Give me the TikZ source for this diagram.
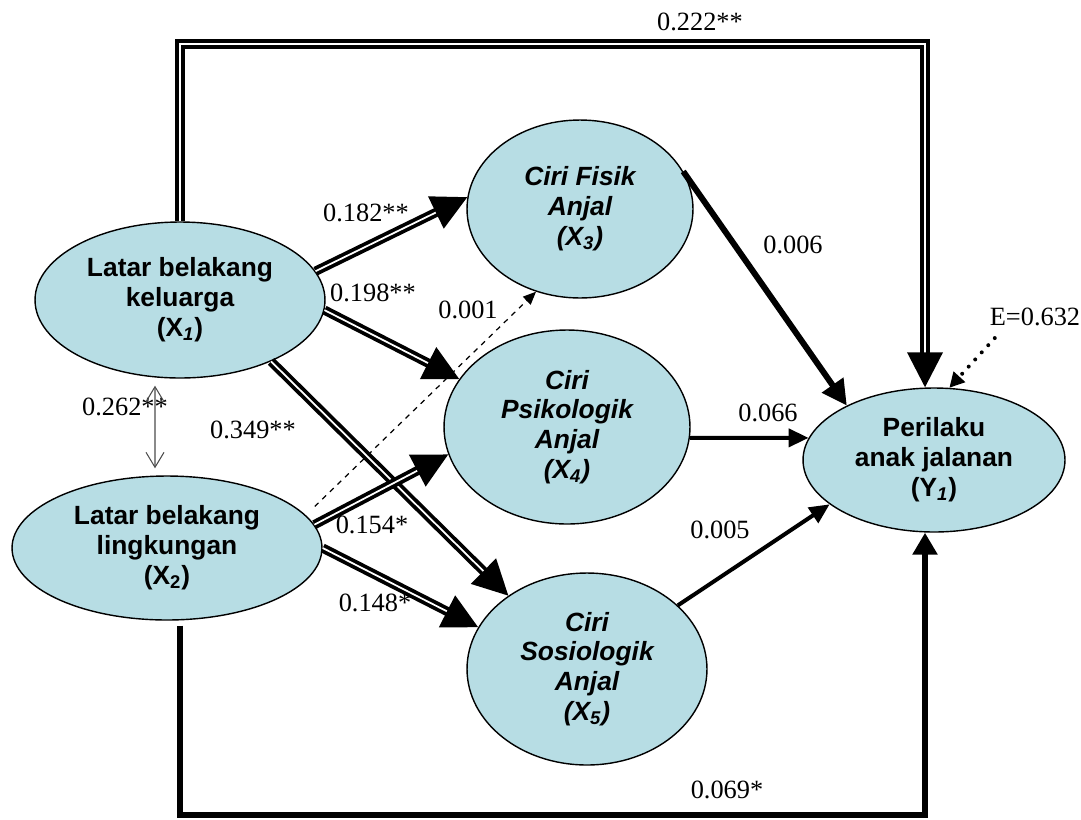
\documentclass[tikz,border=0pt]{standalone}
\usepackage{fontspec}
\setmainfont{Liberation Serif}
\newfontfamily\arialfont{Liberation Sans}
\usetikzlibrary{shapes.geometric,arrows.meta}
\definecolor{anjalblue}{RGB}{183,221,228}

\begin{document}
\begin{tikzpicture}[x=0.02cm, y=-0.02cm,
    varnode/.style={ellipse, draw, line width=0.8pt, fill=anjalblue, inner sep=0pt, align=center,
        font=\arialfont\fontsize{15}{17}\selectfont\bfseries},
    varital/.style={varnode, font=\arialfont\fontsize{15}{17}\selectfont\bfseries\itshape},
    coef/.style={font=\fontsize{15}{17}\selectfont, inner sep=1pt},
    strongpath/.style={draw, line width=0.075cm, double=white, double distance=0.035cm, line join=miter,
        -{Triangle[length=0.7cm,width=0.7cm]}},
    heavypath/.style={draw, line width=0.12cm, -{Triangle[length=0.5cm,width=0.5cm]}},
    mediumpath/.style={draw, line width=0.08cm, -{Triangle[length=0.4cm,width=0.36cm]}},
    weakpath/.style={draw, line width=0.7pt, dashed, -{Triangle[length=0.26cm,width=0.22cm]}},
    corrpath/.style={draw, gray!60!black, line width=0.6pt,
        {Straight Barb[length=0.3cm,width=0.36cm]}-{Straight Barb[length=0.3cm,width=0.36cm]}}
]

    % frame of the picture
    \useasboundingbox (0,0) rectangle (1081,819);

    % exogenous variables
    \node[varnode, minimum width=5.8cm, minimum height=3.12cm] (x1) at (180,300)
        {Latar belakang\\keluarga\\(X\textsubscript{\itshape 1})};
    \node[varnode, minimum width=6.2cm, minimum height=2.88cm] (x2) at (167,548)
        {Latar belakang\\lingkungan\\(X\textsubscript{2})};

    % intervening variables
    \node[varital, minimum width=4.52cm, minimum height=3.56cm] (x3) at (580,209)
        {Ciri Fisik\\Anjal\\(X\textsubscript{3})};
    \node[varital, minimum width=4.92cm, minimum height=3.88cm] (x4) at (567,427)
        {Ciri\\Psikologik\\Anjal\\(X\textsubscript{4})};
    \node[varital, minimum width=4.8cm, minimum height=3.84cm] (x5) at (587,669)
        {Ciri\\Sosiologik\\Anjal\\(X\textsubscript{5})};

    % dependent variable
    \node[varnode, minimum width=5.24cm, minimum height=2.88cm] (y1) at (934,460)
        {Perilaku\\anak jalanan\\(Y\textsubscript{\itshape 1})};

    % path coefficients
    \node[coef] (c222) at (700,22) {0.222**};
    \node[coef] (c182) at (366,213) {0.182**};
    \node[coef] (c198) at (373,293) {0.198**};
    \node[coef] (c001) at (468,310) {0.001};
    \node[coef] (c349) at (253,430) {0.349**};
    \node[coef] (c262) at (125,407) {0.262**};
    \node[coef] (c154) at (372,525) {0.154*};
    \node[coef] (c148) at (375,603) {0.148*};
    \node[coef] (c006) at (793,245) {0.006};
    \node[coef] (c066) at (768,413) {0.066};
    \node[coef] (c005) at (720,530) {0.005};
    \node[coef] (c069) at (727,790) {0.069*};
    \node[coef] (err) at (1035,317) {E=0.632};

    % X1 to Y1 over the top
    \coordinate (topline) at (550,44);
    \draw[strongpath] (x1.north) |- (topline) -| ([xshift=-0.18cm]y1.north);

    % X2 to Y1 along the bottom
    \coordinate (botline) at (550,815);
    \draw[draw, line width=0.11cm, line join=miter, -{Triangle[length=0.44cm,width=0.48cm]}]
        ([xshift=0.26cm,yshift=-0.1cm]x2.south) |- (botline) -| ([xshift=-0.18cm]y1.south);

    % paths from X1 and X2
    \draw[strongpath] (x1.12) -- (x3.174);
    \draw[strongpath] (x1.356) -- (x4.156);
    \draw[strongpath] (x1.326) -- (x5.137);
    \draw[strongpath] (x2.9) -- (x4.193);
    \draw[strongpath] (x2.east) -- (x5.159);
    \draw[weakpath] ([xshift=0.4cm]x2.18) -- (x3.242);

    % paths into Y1
    \draw[heavypath] (x3.20) -- (y1.148);
    \draw[mediumpath] (x4.355) -- (y1.170);
    \draw[mediumpath] (x5.35) -- (y1.203);

    % error term
    \draw[line width=0.08cm, dash pattern=on 0pt off 5.5pt, line cap=round,
        -{Triangle[length=0.3cm,width=0.3cm]}]
        ([xshift=0.14cm,yshift=-0.2cm]err.south west) -- (y1.78);

    % correlation X1 and X2
    \draw[corrpath] ([xshift=-0.5cm,yshift=-0.14cm]x1.south) -- ([xshift=-0.24cm,yshift=0.14cm]x2.north);

\end{tikzpicture}
\end{document}
